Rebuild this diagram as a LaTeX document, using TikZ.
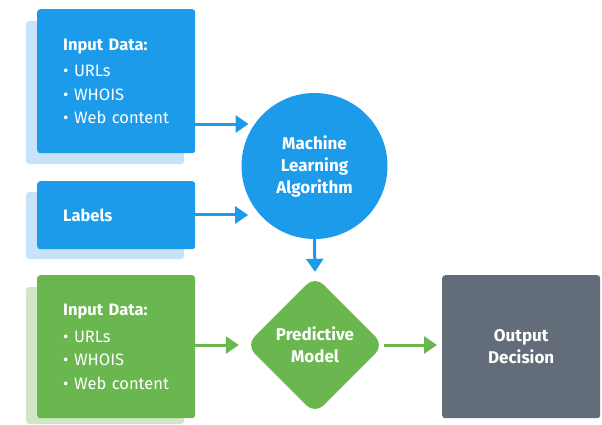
\documentclass[tikz,border=0pt]{standalone}
\usepackage{fontspec}
\setmainfont{Fira Sans}
\usetikzlibrary{shapes.geometric}
\usetikzlibrary{arrows.meta}

\definecolor{mlblue}{RGB}{27,155,233}
\definecolor{mlblueshade}{RGB}{200,227,248}
\definecolor{mlgreen}{RGB}{106,183,80}
\definecolor{mlgreenshade}{RGB}{208,230,198}
\definecolor{mlgray}{RGB}{99,108,121}

\tikzset{
  card/.style={anchor=north west, rounded corners=3pt, inner xsep=26pt, inner ysep=0pt,
    minimum width=158pt, text width=106pt, align=left, text=white,
    font=\fontsize{16.5}{23.5}\selectfont},
  shade/.style={rounded corners=3pt},
  flow/.style={line width=3pt, -{Triangle[length=13pt,width=17pt]}},
  bold label/.style={text=white, align=center, font=\bfseries\fontsize{17}{22}\selectfont},
}

\begin{document}
\begin{tikzpicture}[x=1pt,y=1pt,yscale=-1,xscale=1]
\useasboundingbox (0,0) rectangle (602,424);

%Shape: Shadows
\fill [shade, mlblueshade] (26,21) rectangle (184,164);
\fill [shade, mlblueshade] (26,192) rectangle (184,259);
\fill [shade, mlgreenshade] (26,287) rectangle (184,424);

%Shape: Input boxes
\node (dataA) [card, fill=mlblue, minimum height=144pt] at (37,9)
  {\textbf{Input Data:}\\[3pt] • URLs\\ • WHOIS\\ • Web content};
\node (labels) [card, fill=mlblue, minimum height=68pt] at (37,181)
  {\textbf{Labels}};
\node (dataB) [card, fill=mlgreen, minimum height=143pt] at (37,275)
  {\textbf{Input Data:}\\[3pt] • URLs\\ • WHOIS\\ • Web content};

%Shape: Circle
\node (mla) [circle, fill=mlblue, minimum size=146pt, inner sep=0pt, bold label]
  at (314.5,166) {Machine\\Learning\\Algorithm};

%Shape: Diamond
\node (model) [diamond, fill=mlgreen, minimum size=138pt, inner sep=0pt, rounded corners=12pt,
  bold label] at (315,345) {Predictive\\Model};

%Shape: Output box
\node (decision) [anchor=north west, fill=mlgray, rounded corners=3pt, minimum width=158pt,
  minimum height=143pt, bold label] at (442,275) {Output\\Decision};

%Straight Lines
\draw [flow, mlblue, shorten >=6pt] (dataA.east |- mla.145) -- (mla.145);
\draw [flow, mlblue, shorten >=12pt] (labels.east |- mla.222) -- (mla.222);
\draw [flow, mlblue, shorten >=4pt] (mla.south) -- (model.north);
\draw [flow, mlgreen, shorten >=7pt] (dataB.east |- model.west) -- (model.west);
\draw [flow, mlgreen, shorten >=5pt] (model.east) -- (decision.west |- model.east);

\end{tikzpicture}
\end{document}
